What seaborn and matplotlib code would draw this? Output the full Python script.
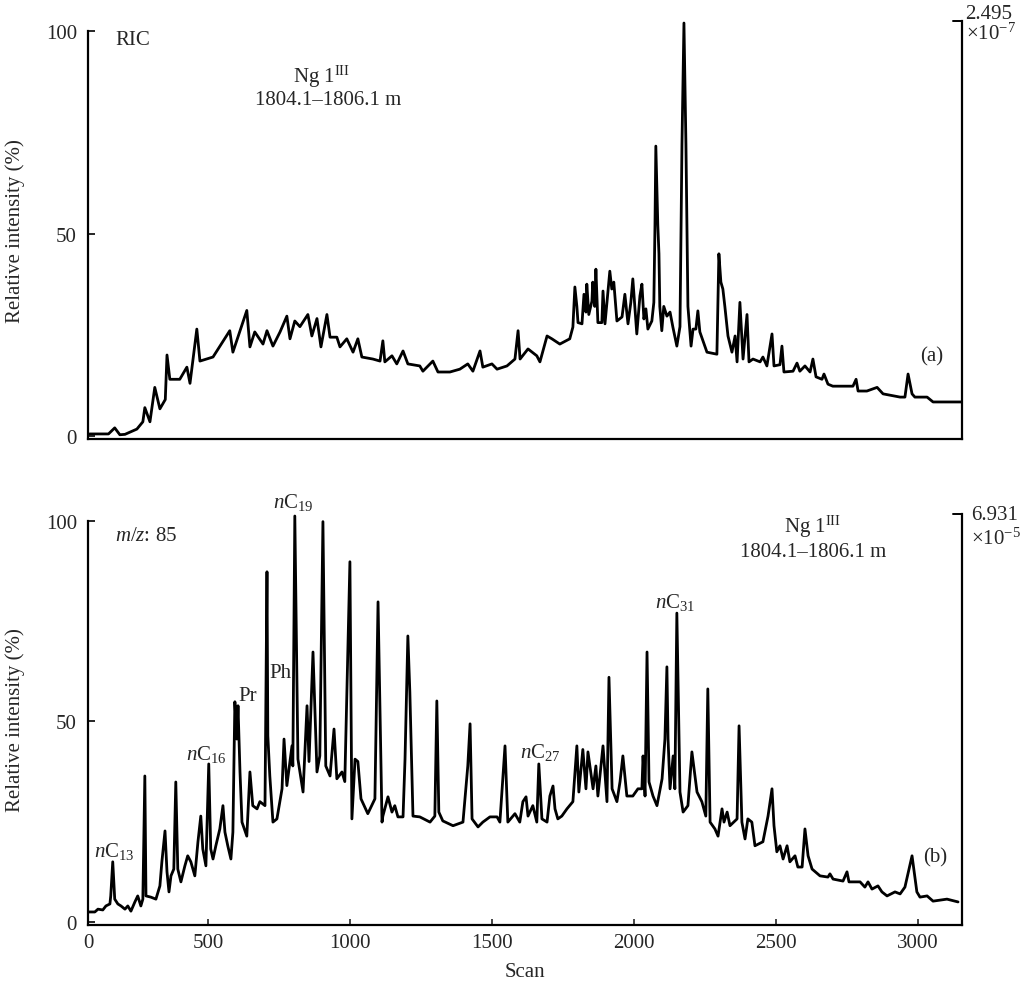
import numpy as np
import pandas as pd
import seaborn as sns
import matplotlib
matplotlib.use("Agg")
import matplotlib.pyplot as plt

# --- data (scan, relative intensity %) ---
ric_scan = [78, 84, 150, 172, 190, 208, 250, 271, 278, 296, 313, 331, 350, 356, 366, 401, 426, 437, 461, 472,
            518, 577, 588, 637, 648, 665, 694, 708, 729, 754, 778, 789, 806, 824, 852, 866, 884, 898, 919, 930,
            954, 965, 989, 1011, 1028, 1042, 1081, 1106, 1116, 1123, 1148, 1165, 1187, 1204, 1246, 1257, 1292,
            1310, 1352, 1387, 1415, 1433, 1458, 1468, 1500, 1518, 1553, 1581, 1592, 1599, 1627, 1658, 1669, 1694,
            1711, 1739, 1774, 1785, 1792, 1799, 1803, 1817, 1824, 1831, 1834, 1841, 1852, 1855, 1862, 1866, 1873,
            1887, 1891, 1898, 1908, 1915, 1922, 1929, 1940, 1958, 1968, 1979, 1989, 1996, 2007, 2010, 2021, 2028,
            2035, 2042, 2049, 2063, 2070, 2074, 2077, 2084, 2088, 2091, 2098, 2105, 2116, 2127, 2137, 2151, 2162,
            2169, 2176, 2183, 2190, 2201, 2208, 2218, 2225, 2232, 2257, 2292, 2299, 2306, 2313, 2320, 2331, 2345,
            2356, 2363, 2373, 2384, 2398, 2405, 2419, 2444, 2454, 2468, 2486, 2493, 2514, 2521, 2528, 2560, 2574,
            2584, 2602, 2620, 2630, 2641, 2662, 2669, 2683, 2700, 2771, 2782, 2789, 2820, 2856, 2877, 2937, 2954,
            2965, 2979, 2989, 3032, 3053, 3155]
ric_int = [0.3, 0.5, 0.5, 2.0, 0.3, 0.4, 1.7, 3.5, 7.0, 3.5, 12.0, 6.7, 9.0, 20.0, 14.0, 14.0, 17.0, 13.0, 26.4, 18.5,
           19.5, 26.0, 20.7, 31.0, 22.0, 25.7, 22.7, 26.0, 22.2, 25.7, 29.6, 24.0, 28.4, 27.0, 30.0, 24.7, 29.0, 22.0,
           30.0, 24.4, 24.4, 22.0, 24.0, 20.7, 24.0, 19.5, 19.0, 18.5, 23.5, 18.3, 19.8, 17.8, 21.0, 17.8, 17.3, 16.0,
           18.5, 15.8, 15.8, 16.5, 17.8, 16.0, 21.0, 17.0, 17.8, 16.5, 17.3, 19.0, 26.0, 19.0, 21.5, 19.8, 18.3, 24.7,
           24.0, 22.7, 24.0, 26.9, 36.8, 32.0, 28.0, 27.7, 35.0, 30.6, 37.5, 30.0, 33.3, 38.0, 32.0, 41.2, 28.0,
           28.0, 35.8, 27.7, 35.5, 40.7, 36.3, 38.0, 28.4, 29.4, 35.0, 27.7, 33.0, 38.8, 28.0, 25.2, 34.6, 37.5,
           28.9, 31.4, 26.4, 28.4, 33.0, 52.0, 71.6, 52.0, 45.0, 32.0, 26.0, 32.0, 29.6, 30.6, 26.9, 22.2, 27.0,
           72.0, 102.0, 72.0, 32.0, 22.2, 26.4, 26.4, 30.9, 25.7, 20.7, 20.2, 45.0, 38.0, 36.3, 32.0, 24.7, 20.7,
           24.7, 18.3, 33.0, 19.0, 30.0, 18.3, 19.0, 18.3, 19.5, 17.3, 25.2, 17.3, 17.6, 22.2, 15.8, 16.0, 18.0,
           16.0, 17.3, 15.8, 19.0, 14.6, 14.0, 15.3, 12.8, 12.3, 12.3, 14.0, 11.1, 11.1, 12.0, 10.4, 9.6, 9.6,
           15.3, 10.4, 9.6, 9.6, 8.4, 8.4]

mz85_scan = [78, 102, 113, 130, 141, 155, 158, 165, 172, 183, 194, 208, 218, 229, 243, 253, 264, 271, 278, 282,
             299, 317, 331, 338, 349, 356, 363, 370, 380, 387, 394, 405, 419, 429, 440, 454, 465, 475, 482, 493,
             503, 510, 518, 528, 542, 553, 560, 570, 581,
             588, 595, 602, 606, 613, 620, 637, 648, 658, 673, 683, 701, 708, 711, 718, 729, 743, 761, 768, 778,
             796, 799, 806, 817, 835, 849, 856, 870, 884, 894, 905, 915, 930, 944, 954, 972, 982, 1000, 1007, 1018,
             1028, 1039, 1063, 1088, 1099, 1113, 1116, 1134, 1148, 1158, 1169, 1187, 1194, 1201, 1204, 1211, 1222,
             1246, 1282, 1299, 1306, 1313, 1327, 1363, 1398, 1415, 1423, 1430, 1451, 1468, 1493, 1518, 1528, 1546,
             1556, 1581, 1598, 1609, 1620, 1627, 1644, 1658, 1665, 1676, 1694, 1704, 1715, 1722, 1732, 1746, 1764,
             1785, 1799, 1806, 1820, 1831, 1838, 1856, 1866, 1873, 1891, 1905, 1912, 1923, 1940, 1951, 1961, 1975,
             1996, 2014, 2028, 2032, 2039, 2046, 2053, 2067, 2081, 2099, 2109, 2116, 2120, 2127, 2138, 2144, 2151,
             2162, 2173, 2190, 2204, 2222, 2239, 2253, 2260, 2268, 2285, 2296, 2310, 2317, 2328, 2338, 2363, 2370,
             2380, 2391, 2401, 2415, 2426, 2454, 2472, 2486, 2493, 2503, 2514, 2525, 2539, 2549, 2567, 2577, 2592,
             2602, 2613, 2627, 2655, 2683, 2690, 2701, 2736, 2750, 2757, 2796, 2813, 2824, 2838, 2859, 2873, 2891,
             2919, 2937, 2954, 2979, 2996, 3007, 3032, 3053, 3102, 3141]
mz85_int = [2.5, 2.5, 3.2, 3.0, 4.0, 4.5, 6.5, 15.0, 5.7, 4.5, 4.0, 3.2, 4.0, 2.7, 5.0, 6.5, 4.0, 5.7, 36.4, 6.5,
            6.2, 5.7, 9.0, 15.0, 22.7, 12.5, 7.5, 11.5, 13.2, 34.9, 13.2, 10.0, 14.0, 16.5, 15.0, 11.5, 20.0, 26.4,
            18.2, 14.0, 39.4, 18.2, 15.7, 19.0, 23.2, 29.0, 22.4, 19.0, 15.7,
            22.4, 54.9, 45.6, 53.9, 37.4, 24.9, 21.4, 37.4, 29.0, 28.2, 30.0, 29.0, 87.3, 46.4, 36.4,
            24.9, 25.7, 33.2, 45.6, 34.0, 43.9, 38.9, 101.2, 40.6, 32.4, 53.9, 40.0, 67.3, 37.4, 41.4, 99.8, 38.9,
            36.4, 48.1, 35.7, 37.4, 35.0, 89.8, 25.7, 40.6, 40.0, 30.7, 27.0, 30.7, 79.8, 24.9, 26.4, 31.2, 27.4,
            29.0, 26.2, 26.2, 40.6, 61.3, 71.3, 57.3, 26.4, 26.2, 24.9, 26.4, 55.1, 27.4, 25.2, 24.0, 24.9, 38.9,
            49.4, 25.7, 23.7, 24.9, 26.2, 26.2, 24.9, 43.9, 24.9, 27.0, 24.9, 30.0, 31.2, 26.4, 29.0, 24.9, 39.4,
            25.7, 24.9, 31.4, 33.9, 28.2, 25.7, 26.4, 28.2, 30.0, 43.9, 32.4, 43.0, 33.2, 42.4, 33.2, 38.9, 31.4,
            43.9, 30.0, 61.0, 33.2, 30.0, 35.0, 41.4, 31.4, 31.4, 33.2, 33.2, 41.4, 31.4, 67.3, 34.9, 31.4, 29.0,
            35.7, 45.6, 63.6, 45.6, 33.2, 41.4, 33.2, 77.0, 32.4, 27.4, 29.0, 42.4, 32.4, 30.0, 26.4, 58.1, 24.9,
            23.2, 21.4, 28.2, 24.9, 27.4, 24.0, 25.7, 48.9, 24.9, 20.7, 25.7, 24.9, 19.0, 20.0, 26.4, 33.2, 24.0,
            17.5, 19.0, 15.7, 19.0, 15.0, 16.5, 13.7, 13.7, 23.2, 16.5, 13.2, 11.5, 11.2, 12.0, 10.7, 10.2, 12.5,
            10.0, 10.0, 8.7, 10.0, 8.2, 9.0, 7.5, 6.5, 7.5, 7.0, 8.7, 16.5, 7.5, 6.2, 6.5, 5.2, 5.7, 5.0]

scan_ticks = [78, 500, 1000, 1500, 2000, 2500, 3000]
scan_labels = ["0", "500", "1000", "1500", "2000", "2500", "3000"]
y_ticks = [0, 50, 100]

ric = pd.DataFrame({"Scan": ric_scan, "Intensity": ric_int})
mz85 = pd.DataFrame({"Scan": mz85_scan, "Intensity": mz85_int})

sns.set_theme(style="white")
plt.rcParams['font.family'] = ['Liberation Serif', 'DejaVu Serif']
plt.rcParams['mathtext.fontset'] = 'custom'
plt.rcParams['mathtext.rm'] = 'Liberation Serif'
plt.rcParams['mathtext.it'] = 'Liberation Serif:italic'
plt.rcParams['axes.edgecolor'] = 'black'
plt.rcParams['axes.linewidth'] = 1.6

FS = 15

fig = plt.figure(figsize=(10.32, 9.87), dpi=100)
ax_top = fig.add_axes([0.0853, 0.5542, 0.8469, 0.4235])
ax_bot = fig.add_axes([0.0853, 0.0618, 0.8469, 0.4164])


def style_axis(ax, ytop, show_x):
    ax.set_xlim(78, 3155)
    ax.set_ylim(-0.75, ytop)
    ax.spines['top'].set_visible(False)
    ax.spines['left'].set_bounds(-0.75, 100)
    ax.set_yticks(y_ticks)
    ax.set_yticklabels([str(t) for t in y_ticks], fontsize=FS)
    ax.tick_params(axis='y', direction='in', length=5, width=1.4, pad=8, left=True)
    ax.set_xticks(scan_ticks)
    if show_x:
        ax.set_xticklabels(scan_labels, fontsize=FS)
        ax.tick_params(axis='x', direction='in', length=4, width=1.2, pad=6, bottom=True)
    else:
        ax.set_xticklabels([])
        ax.tick_params(axis='x', length=0)
    ax.set_ylabel("Relative intensity (%)", fontsize=FS)
    ax.yaxis.set_label_coords(-0.072, 0.5)
    # short inward stub at the top of the right axis
    ax.plot([0.99, 1.0], [1.0, 1.0], transform=ax.transAxes, color='black', lw=1.4, clip_on=False)


sns.lineplot(data=ric, x="Scan", y="Intensity", ax=ax_top, color="black", linewidth=2.0,
             estimator=None, sort=False)
sns.lineplot(data=mz85, x="Scan", y="Intensity", ax=ax_bot, color="black", linewidth=2.0,
             estimator=None, sort=False)

style_axis(ax_top, 102.5, False)
style_axis(ax_bot, 101.7, True)
ax_top.set_xlabel("")
ax_bot.set_xlabel("Scan", fontsize=FS, labelpad=7)

# top panel annotations
ax_top.text(175, 98, "RIC", fontsize=FS, ha='left', va='center')
ax_top.text(901, 88.9, r"Ng 1$^{\mathrm{III}}$", fontsize=FS, ha='center', va='center')
ax_top.text(922, 83.2, "1804.1\u20131806.1 m", fontsize=FS, ha='center', va='center')
ax_top.text(3049, 19.8, "(a)", fontsize=FS, ha='center', va='center')
ax_top.text(1.004, 1.017, "2.495", transform=ax_top.transAxes, fontsize=FS, ha='left', va='center')
ax_top.text(1.004, 0.972, r"$\times$10$^{-7}$", transform=ax_top.transAxes, fontsize=FS, ha='left', va='center')

# bottom panel annotations
ax_bot.text(172, 96.3, r"$\mathit{m/z}$: 85", fontsize=FS, ha='left', va='center')
ax_bot.text(799, 104.7, r"$\mathit{n}$C$_{19}$", fontsize=FS, ha='center', va='center', clip_on=False)
ax_bot.text(757, 62.3, "Ph", fontsize=FS, ha='center', va='center')
ax_bot.text(641, 56.4, "Pr", fontsize=FS, ha='center', va='center')
ax_bot.text(493, 41.9, r"$\mathit{n}$C$_{16}$", fontsize=FS, ha='center', va='center')
ax_bot.text(169, 17.7, r"$\mathit{n}$C$_{13}$", fontsize=FS, ha='center', va='center')
ax_bot.text(1669, 42.4, r"$\mathit{n}$C$_{27}$", fontsize=FS, ha='center', va='center')
ax_bot.text(2144, 79.8, r"$\mathit{n}$C$_{31}$", fontsize=FS, ha='center', va='center')
ax_bot.text(2630, 98.8, r"Ng 1$^{\mathrm{III}}$", fontsize=FS, ha='center', va='center')
ax_bot.text(2630, 92.3, "1804.1\u20131806.1 m", fontsize=FS, ha='center', va='center')
ax_bot.text(3060, 16.2, "(b)", fontsize=FS, ha='center', va='center')
ax_bot.text(1.01, 1.0, "6.931", transform=ax_bot.transAxes, fontsize=FS, ha='left', va='center')
ax_bot.text(1.01, 0.94, r"$\times$10$^{-5}$", transform=ax_bot.transAxes, fontsize=FS, ha='left', va='center')

fig.savefig("out.png", dpi=100)
